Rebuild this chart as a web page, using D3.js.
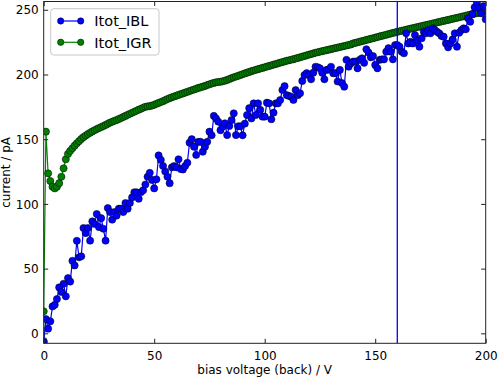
<!DOCTYPE html>
<html>
<head>
<meta charset="utf-8">
<script src="https://cdn.jsdelivr.net/npm/d3@7"></script>
<style>
    body { margin: 0; background: #fff; }
    svg { display: block; font-family: "DejaVu Sans", sans-serif; }
</style>
</head>
<body>
<svg width="498" height="377"></svg>
<script>
// bias voltage steps (back), V
const volts = d3.range(0, 201);

// Itot_IBL, pA  (one value per volt)
const ibl = [
    -7, 11, 3.6, 9.3, 20.8, 22, 26.5, 35.5, 32, 38.3,
    28.6, 42.7, 40, 56, 52.5, 71.5, 58.7, 59.5, 81.4, 77.5,
    81.4, 71.6, 86.5, 84.5, 92.2, 82.1, 89, 80.8, 71.6, 96.8,
    93.7, 87.8, 93.7, 91, 96.3, 96.3, 93.7, 100.7, 96.3, 100.7,
    105, 109, 109, 104, 109, 110.5, 115, 121, 124, 118.5,
    112, 119, 137.5, 134, 129.3, 125, 121, 116, 128.3, 129.3,
    128.3, 134.5, 127, 126.6, 129.3, 131.8, 147.3, 150, 144.2, 137.8,
    148, 148, 140.4, 144.2, 148, 155.8, 153, 168, 166, 163.5,
    157, 159.7, 162.3, 153.2, 160.2, 164.8, 170, 153.2, 160, 160,
    153, 162, 168.7, 174, 166, 177.7, 168.7, 177.7, 172.6, 167.4,
    167.4, 178.2, 177.7, 165.4, 170.5, 177.7, 177.7, 180.3, 188, 191,
    184, 183.4, 182.8, 180.3, 188, 184, 185.5, 195, 199.6, 201,
    199.6, 196.3, 201.4, 206, 205.6, 204.8, 201.4, 196.3, 203.5, 204,
    206, 201, 201, 194.6, 203.5, 193.3, 190.6, 211.3, 206, 208.6,
    210, 210, 204.8, 211.3, 212.5, 209, 219.5, 217, 213.3, 214.3,
    207.4, 204.8, 211.3, 211.7, 211.7, 217.6, 220.3, 217.6, 211.7, 222.8,
    222.8, 221.5, 217.6, 216.4, 231.8, 224, 225.3, 224, 230.5, 226.6,
    221.5, 228, 233, 231.8, 234.3, 231.8, 235.7, 234.3, 233, 231.8,
    229.7, 229.2, 224, 221, 224, 227.1, 231.8, 221.5, 232.3, 234.3,
    235.7, 234.9, 243.4, 240.8, 246.7, 251.9, 255.5, 251.2, 247.3, 252.9,
    242.6
];

// Itot_IGR, pA  (leading extra point at 0 V, then one value per volt)
const igrVolts = [0].concat(volts);
const igr = [
    -6,
    17, 155.8, 123.6, 117.7, 113.3, 112, 113.3, 116, 121, 127.5,
    134.5, 138.6, 141, 143, 145, 146.8, 148.5, 150.2, 151.6, 152.8,
    154, 155, 156, 156.9, 157.8, 158.6, 159.4, 160.2, 161, 161.9,
    162.8, 163.5, 164.2, 164.8, 165.6, 166.4, 167.2, 168, 168.8, 169.6,
    170.4, 171.2, 172, 172.8, 173.5, 174.3, 175, 175.3, 175.6, 176,
    176.6, 177.3, 178, 178.7, 179.4, 180.2, 181, 181.7, 182.4, 183,
    183.6, 184.2, 184.8, 185.4, 186, 186.6, 187.2, 187.8, 188.4, 189,
    189.6, 190.1, 190.6, 191.2, 191.8, 192.4, 193, 193.5, 194, 194.2,
    194.4, 194.7, 195.2, 195.8, 196.5, 197.2, 197.8, 198.4, 199, 199.6,
    200.2, 200.8, 201.4, 202, 202.6, 203.1, 203.6, 204.1, 204.6, 205.1,
    205.6, 206.1, 206.6, 207.1, 207.6, 208.1, 208.6, 209.1, 209.6, 210.1,
    210.6, 211, 211.4, 211.8, 212.3, 212.8, 213.3, 213.8, 214.3, 214.8,
    215.3, 215.8, 216.3, 216.8, 217.2, 217.6, 218, 218.4, 218.8, 219.2,
    219.6, 220, 220.4, 220.8, 221.2, 221.6, 222, 222.4, 222.8, 223.2,
    224, 224.4, 224.9, 225.3, 225.8, 226.2, 226.7, 227.1, 227.6, 228,
    228.5, 228.9, 229.4, 229.8, 230.3, 230.7, 231.2, 231.6, 232.1, 232.5,
    233, 233.4, 233.8, 234.2, 234.6, 235, 235.4, 235.8, 236.2, 236.6,
    237, 237.4, 237.8, 238.2, 238.6, 239, 239.4, 239.8, 240.2, 240.6,
    241, 241.4, 241.8, 242.2, 242.6, 243, 243.4, 243.8, 244.2, 244.6,
    245, 245.4, 245.8, 246.2, 246.6, 247, 247.4, 247.8, 248.2, 248.6,
    249
];

const xTicks = [0, 50, 100, 150, 200];
const yTicks = [0, 50, 100, 150, 200, 250];
const xDomain = [0, 200];
const yDomain = [-7.7, 256.4];
const markerLine = 160;   // vertical marker, V

const seriesNames = ["Itot_IBL", "Itot_IGR"];
const seriesColours = ["#0000ff", "#008000"];

const plot = {left: 43.7, right: 485.7, top: 1.5, bottom: 343.3};
const dot = 3.6;

$ready();

function $ready() {
    let svg = d3.select("svg");

    let x = d3.scaleLinear().domain(xDomain).range([plot.left, plot.right]);
    let y = d3.scaleLinear().domain(yDomain).range([plot.bottom, plot.top]);

    svg.append("defs").append("clipPath").attr("id", "plotclip")
        .append("rect")
        .attr("x", plot.left).attr("y", plot.top)
        .attr("width", plot.right - plot.left)
        .attr("height", plot.bottom - plot.top);

    let g = svg.append("g").attr("clip-path", "url(#plotclip)");

    let iblPts = volts.map((v, i) => [v, ibl[i]]);
    let igrPts = igrVolts.map((v, i) => [v, igr[i]]);

    //green drawn first, blue over it
    drawSeries(g, igrPts, seriesColours[1], x, y);
    drawSeries(g, iblPts, seriesColours[0], x, y);

    //vertical line at 160 V
    g.append("line")
        .attr("x1", x(markerLine)).attr("x2", x(markerLine))
        .attr("y1", plot.top).attr("y2", plot.bottom)
        .attr("stroke", "#0000ff")
        .attr("stroke-width", 1.3);

    //axes, classic style: ticks point inwards on all four sides
    let tickLen = 4.5;
    let bottom = svg.append("g")
        .attr("transform", "translate(0," + plot.bottom + ")")
        .call(d3.axisBottom(x).tickValues(xTicks).tickSizeInner(-tickLen).tickSizeOuter(0).tickPadding(6));
    svg.append("g")
        .attr("transform", "translate(0," + plot.top + ")")
        .call(d3.axisTop(x).tickValues(xTicks).tickSizeInner(-tickLen).tickSizeOuter(0).tickFormat(""));
    let left = svg.append("g")
        .attr("transform", "translate(" + plot.left + ",0)")
        .call(d3.axisLeft(y).tickValues(yTicks).tickSizeInner(-tickLen).tickSizeOuter(0).tickPadding(5));
    svg.append("g")
        .attr("transform", "translate(" + plot.right + ",0)")
        .call(d3.axisRight(y).tickValues(yTicks).tickSizeInner(-tickLen).tickSizeOuter(0).tickFormat(""));

    svg.selectAll(".domain").remove();
    svg.selectAll(".tick line").attr("stroke", "#222");
    svg.selectAll(".tick text")
        .attr("fill", "#000")
        .style("font-size", "12px")
        .style("font-family", "DejaVu Sans");
    bottom.selectAll(".tick text").attr("dy", "0.9em");
    left.selectAll(".tick text").attr("dy", "0.35em");

    //frame
    svg.append("rect")
        .attr("x", plot.left).attr("y", plot.top)
        .attr("width", plot.right - plot.left)
        .attr("height", plot.bottom - plot.top)
        .attr("fill", "none")
        .attr("stroke", "#222")
        .attr("stroke-width", 1);

    //axis labels
    svg.append("text")
        .attr("x", (plot.left + plot.right) / 2)
        .attr("y", 374)
        .attr("text-anchor", "middle")
        .style("font-size", "12px")
        .text("bias voltage (back) / V");
    svg.append("text")
        .attr("transform", "translate(10," + ((plot.top + plot.bottom) / 2) + ") rotate(-90)")
        .attr("text-anchor", "middle")
        .style("font-size", "12px")
        .text("current / pA");

    drawLegend(svg);
}

function drawSeries(g, pts, colour, x, y) {
    let line = d3.line()
        .x(function (d) { return x(d[0]); })
        .y(function (d) { return y(d[1]); });

    g.append("path")
        .datum(pts)
        .attr("d", line)
        .attr("fill", "none")
        .attr("stroke", colour)
        .attr("stroke-width", 1.2);

    g.append("g")
        .selectAll("circle")
        .data(pts)
        .enter().append("circle")
        .attr("cx", function (d) { return x(d[0]); })
        .attr("cy", function (d) { return y(d[1]); })
        .attr("r", dot)
        .attr("fill", colour)
        .attr("stroke", "#000")
        .attr("stroke-width", 0.5);
}

function drawLegend(svg) {
    let lg = svg.append("g").attr("transform", "translate(50.7,8.7)");
    lg.append("rect")
        .attr("width", 108.3).attr("height", 46.3)
        .attr("rx", 3).attr("ry", 3)
        .attr("fill", "#fff")
        .attr("stroke", "#c8c8c8")
        .attr("stroke-width", 1);

    seriesNames.forEach(function (name, i) {
        let cy = 12.3 + i * 21.3;
        lg.append("line")
            .attr("x1", 10).attr("x2", 30)
            .attr("y1", cy).attr("y2", cy)
            .attr("stroke", seriesColours[i])
            .attr("stroke-width", 1.2);
        [10, 30].forEach(function (cx) {
            lg.append("circle")
                .attr("cx", cx).attr("cy", cy).attr("r", 3.2)
                .attr("fill", seriesColours[i])
                .attr("stroke", "#000")
                .attr("stroke-width", 0.5);
        });
        lg.append("text")
            .attr("x", 43.6).attr("y", cy)
            .attr("dy", "0.36em")
            .style("font-size", "14.5px")
            .text(name);
    });
}
</script>
</body>
</html>
